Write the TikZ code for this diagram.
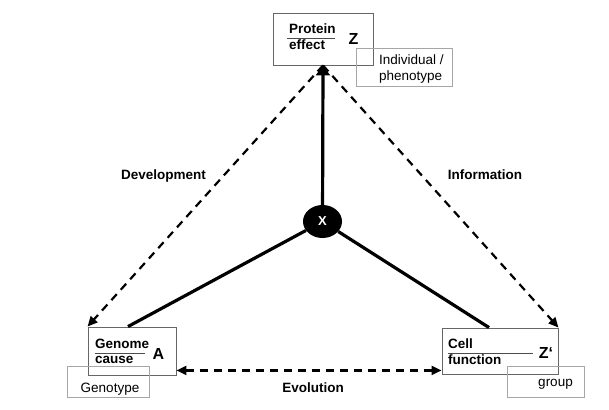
\documentclass[tikz,border=0pt]{standalone}
\usepackage{fontspec}
\setmainfont{Liberation Sans}
\usetikzlibrary{arrows.meta,shapes.geometric}
\tikzset{
  mainbox/.style={draw=black!60, line width=0.9pt, inner sep=0pt},
  tagbox/.style={draw=black!35, line width=0.8pt, inner sep=0pt},
  word/.style={font=\bfseries\fontsize{13.5}{15}\selectfont, inner sep=0pt, anchor=base west},
  tagword/.style={font=\fontsize{13.5}{15}\selectfont, inner sep=0pt},
  letter/.style={font=\bfseries\fontsize{16}{18}\selectfont, inner sep=0pt},
  arcname/.style={font=\bfseries\fontsize{13.5}{15}\selectfont, inner sep=0pt, anchor=base},
  fracline/.style={line width=1pt, black!70},
  solidlink/.style={line width=3.2pt},
  dashlink/.style={line width=2.2pt, dash pattern=on 8pt off 6pt},
}
\begin{document}
\begin{tikzpicture}[x=1pt,y=-1pt]
  \useasboundingbox (0,0) rectangle (609,409);
  % boxes
  \node[mainbox, minimum width=100pt, minimum height=52pt] (protein) at (323,39) {};
  \node[tagbox, minimum width=96pt, minimum height=38pt] (indiv) at (404,67) {};
  \node[mainbox, minimum width=88pt, minimum height=48pt] (genome) at (132,351) {};
  \node[tagbox, minimum width=82pt, minimum height=31pt] (genotype) at (108,381.5) {};
  \node[mainbox, minimum width=116pt, minimum height=46pt] (cell) at (500,351) {};
  \node[tagbox, minimum width=77pt, minimum height=31pt] (group) at (545.5,381.5) {};
  \node[ellipse, fill=black, minimum width=39pt, minimum height=33pt, inner sep=0pt,
        text=white, font=\bfseries\fontsize{13}{15}\selectfont] (x) at (322.5,221.5) {X};
  % box texts
  \node[word] (ptop) at (289,34) {Protein};
  \node[word] (pbot) at (289,50) {effect};
  \draw[fracline] (287,39) -- (335,39);
  \node[letter] (zlet) at (353.5,39) {Z};
  \node[word] (gtop) at (95,348) {Genome};
  \node[word] (gbot) at (95,363) {cause};
  \draw[fracline] (95,353) -- (145,353);
  \node[letter] (alet) at (158.5,354) {A};
  \node[word] (ctop) at (448,348) {Cell};
  \node[word] (cbot) at (448,364) {function};
  \draw[fracline] (448,353) -- (533,353);
  \node[letter] (zplet) at (546,353) {Z‘};
  % tag texts
  \node[tagword, anchor=base west] (itop) at (379,65) {Individual /};
  \node[tagword, anchor=base west] (ibot) at (379,81) {phenotype};
  \node[tagword, anchor=base] (gtxt) at (110,392) {Genotype};
  \node[tagword, anchor=base] (grtxt) at (555.5,386) {group};
  % connectors
  \draw[solidlink, -{Triangle[width=14pt,length=10pt]}] (x) -- (protein.south);
  \draw[solidlink] (x) -- ([xshift=-4pt]genome.north);
  \draw[solidlink] (x) -- ([xshift=-11pt]cell.north);
  \draw[dashlink, -{Triangle[width=9pt,length=10pt]}] (protein.south) -- (genome.north west);
  \draw[dashlink, -{Triangle[width=9pt,length=10pt]}] (protein.south) -- (cell.north east);
  \draw[dashlink, {Triangle[width=9pt,length=10pt]}-{Triangle[width=9pt,length=10pt]}]
    ([yshift=5pt]genome.south east) -- ([yshift=4pt]cell.south west);
  % arc names
  \node[arcname] (devtext) at (163.5,179) {Development};
  \node[arcname] (infotext) at (485,179) {Information};
  \node[arcname] (evotext) at (313,392) {Evolution};
\end{tikzpicture}
\end{document}
